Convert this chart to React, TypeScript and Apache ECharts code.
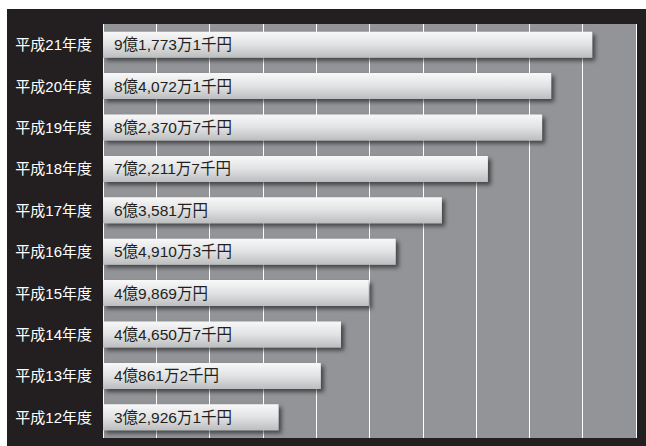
import React, { useEffect, useRef } from "react";
import * as echarts from "echarts";

const categories = ["平成21年度", "平成20年度", "平成19年度", "平成18年度", "平成17年度", "平成16年度", "平成15年度", "平成14年度", "平成13年度", "平成12年度"];
// values in 千円
const values = [917731, 840721, 823707, 722117, 635810, 549103, 498690, 446507, 408612, 329261];
const valueLabels = ["9億1,773万1千円", "8億4,072万1千円", "8億2,370万7千円", "7億2,211万7千円", "6億3,581万円", "5億4,910万3千円", "4億9,869万円", "4億4,650万7千円", "4億861万2千円", "3億2,926万1千円"];

export default function App() {
  const ref = useRef<HTMLDivElement>(null);
  useEffect(() => {
    if (!ref.current) return;
    const chart = echarts.init(ref.current, undefined, { renderer: "svg" });
    const font = "'Liberation Sans', 'Noto Sans CJK JP', sans-serif";
    chart.setOption({
      animation: false,
      backgroundColor: "#ffffff",
      graphic: [
        { type: "rect", z: -10, shape: { x: 7, y: 9, width: 650, height: 450 }, style: { fill: "#231f20" } },
      ],
      grid: { left: 103, right: 10, top: 24, bottom: 8, show: true, backgroundColor: "#939498", borderWidth: 0 },
      xAxis: {
        type: "value",
        min: 0,
        max: 1000000,
        interval: 100000,
        axisLabel: { show: false },
        axisLine: { show: false },
        axisTick: { show: false },
        splitLine: { show: true, lineStyle: { color: "#ffffff", width: 1 } },
      },
      yAxis: {
        type: "category",
        data: categories,
        inverse: true,
        axisLine: { show: false },
        axisTick: { show: false },
        axisLabel: { color: "#ffffff", fontSize: 15, fontFamily: font, margin: 11 },
      },
      series: [
        {
          type: "bar",
          data: values,
          barWidth: 26,
          itemStyle: {
            color: new echarts.graphic.LinearGradient(0, 0, 0, 1, [
              { offset: 0, color: "#f8f8f9" },
              { offset: 0.5, color: "#e1e2e3" },
              { offset: 1, color: "#bcbdbf" },
            ]),
            shadowColor: "rgba(0,0,0,0.55)",
            shadowBlur: 4,
            shadowOffsetX: 3,
            shadowOffsetY: 3,
          },
          label: {
            show: true,
            position: "insideLeft",
            distance: 11,
            color: "#231f20",
            fontSize: 15.5,
            fontFamily: font,
            formatter: (p: any) => valueLabels[p.dataIndex],
          },
        },
      ],
    });
    return () => chart.dispose();
  }, []);
  return <div ref={ref} style={{ position: "fixed", left: 0, top: 0, width: 646, height: 446 }} />;
}
